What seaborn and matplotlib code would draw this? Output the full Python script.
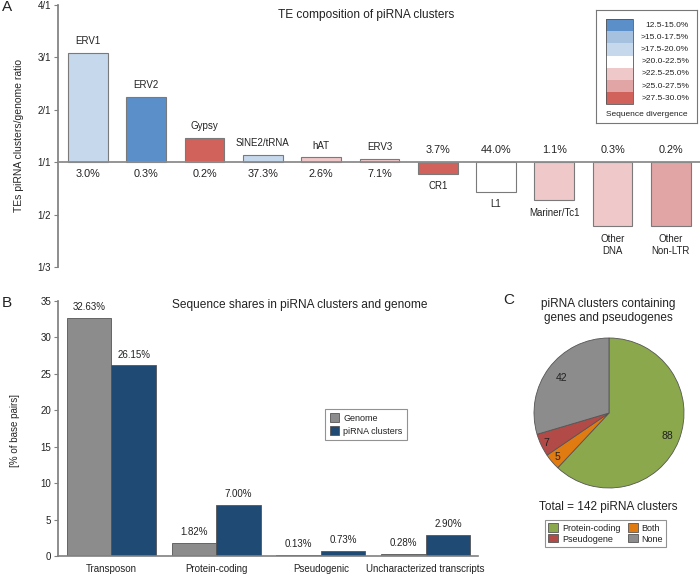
import numpy as np
import pandas as pd
import matplotlib
matplotlib.use("Agg")
import matplotlib.pyplot as plt
from matplotlib.patches import Patch, Rectangle
import seaborn as sns

# Panel A: TE families, ratio of share in piRNA clusters vs genome
te_names = ["ERV1", "ERV2", "Gypsy", "SINE2/tRNA", "hAT", "ERV3", "CR1", "L1",
            "Mariner/Tc1", "Other\nDNA", "Other\nNon-LTR"]
te_ratio = [3.09, 2.24, 1.46, 1.13, 1.09, 1.07, 1 / 1.22, 1 / 1.56, 1 / 1.72, 1 / 2.22, 1 / 2.22]
te_share = ["3.0%", "0.3%", "0.2%", "37.3%", "2.6%", "7.1%", "3.7%", "44.0%", "1.1%", "0.3%", "0.2%"]
te_div_class = [2, 0, 6, 2, 4, 4, 6, 3, 4, 4, 5]

div_labels = ["12.5-15.0%", ">15.0-17.5%", ">17.5-20.0%", ">20.0-22.5%",
              ">22.5-25.0%", ">25.0-27.5%", ">27.5-30.0%"]
div_colors = ["#5b8fc9", "#a6c0e0", "#c6d8ec", "#ffffff", "#efc8c9", "#e2a5a5", "#d0625b"]

ratio_ticks = [4, 3, 2, 1, 1 / 2, 1 / 3]
ratio_tick_labels = ["4/1", "3/1", "2/1", "1/1", "1/2", "1/3"]

# Panel B: sequence shares
seq_types = ["Transposon", "Protein-coding", "Pseudogenic", "Uncharacterized transcripts"]
genome_pct = [32.63, 1.82, 0.13, 0.28]
cluster_pct = [26.15, 7.00, 0.73, 2.90]

# Panel C: clusters containing genes
gene_cats = ["Protein-coding", "Both", "Pseudogene", "None"]
gene_counts = [88, 5, 7, 42]
gene_colors = ["#8ba84d", "#e07b12", "#b24a48", "#8c8c8c"]

sns.set_theme(style="ticks")
plt.rcParams["font.family"] = ["Liberation Sans", "DejaVu Sans"]
plt.rcParams["text.color"] = "#222222"
plt.rcParams["axes.edgecolor"] = "#808080"
plt.rcParams["xtick.color"] = "#808080"
plt.rcParams["ytick.color"] = "#808080"
plt.rcParams["xtick.labelcolor"] = "#222222"
plt.rcParams["ytick.labelcolor"] = "#222222"


def ratio_to_axis(r):
    # ratios above 1 go up linearly (r-1), below 1 go down as -(1/r - 1)
    r = np.asarray(r, dtype=float)
    return np.where(r >= 1, r - 1, 1 - 1 / r)


W, H = 700, 574
fig = plt.figure(figsize=(W / 100, H / 100), dpi=100)


def px_axes(x0, y0, x1, y1):
    return fig.add_axes([x0 / W, 1 - y1 / H, (x1 - x0) / W, (y1 - y0) / H])


# ---------------- Panel A ----------------
dfa = pd.DataFrame({"te": te_names, "ratio": te_ratio, "share": te_share})
dfa["height"] = ratio_to_axis(dfa["ratio"])
bar_cols = [div_colors[k] for k in te_div_class]

axA = px_axes(58, 5, 700, 267)
sns.barplot(data=dfa, x="te", y="height", hue="te", palette=bar_cols, width=0.68, saturation=1,
            edgecolor="#7a7a7a", linewidth=0.8, errorbar=None, legend=False, ax=axA)
axA.set_xlim(-0.515, 10.5)
axA.set_ylim(-2, 3)
axA.set_yticks(ratio_to_axis(ratio_ticks))
axA.set_yticklabels(ratio_tick_labels, fontsize=7)
axA.tick_params(axis="y", length=3, width=0.8, pad=2)
axA.set_xticks([])
axA.set_xlabel("")
axA.set_ylabel("TEs piRNA clusters/genome ratio", fontsize=7.5)
axA.yaxis.set_label_coords(-34 / 642, 0.5)
sns.despine(ax=axA, bottom=True)
axA.axhline(0, color="#8c8c8c", lw=1.3, zorder=3)

for i, row in dfa.iterrows():
    h = row["height"]
    if h >= 0:
        axA.annotate(row["te"], (i, h), xytext=(0, 5), textcoords="offset points",
                     ha="center", va="bottom", fontsize=7)
        axA.annotate(row["share"], (i, 0), xytext=(0, -5), textcoords="offset points",
                     ha="center", va="top", fontsize=7.8)
    else:
        axA.annotate(row["share"], (i, 0), xytext=(0, 5), textcoords="offset points",
                     ha="center", va="bottom", fontsize=7.8)
        axA.annotate(row["te"], (i, h), xytext=(0, -5.5), textcoords="offset points",
                     ha="center", va="top", fontsize=7, linespacing=1.25)

fig.text(366 / W, 1 - 15 / H, "TE composition of piRNA clusters", ha="center", va="center", fontsize=8.6)
fig.text(2 / W, 1 - 7 / H, "A", ha="left", va="center", fontsize=11)

# divergence legend
lax = px_axes(596, 10, 697, 123)
lax.set_xlim(0, 101)
lax.set_ylim(113, 0)
lax.set_xticks([])
lax.set_yticks([])
for s in lax.spines.values():
    s.set_color("#777777")
    s.set_linewidth(0.8)
for k, (lab, col) in enumerate(zip(div_labels, div_colors)):
    lax.add_patch(Rectangle((10, 9 + 12.2 * k), 27, 12.2, facecolor=col, edgecolor="none"))
    lax.text(93, 15.1 + 12.2 * k, lab, ha="right", va="center", fontsize=6)
lax.add_patch(Rectangle((10, 9), 27, 12.2 * 7, fill=False, edgecolor="#555555", lw=0.6))
lax.text(51, 105, "Sequence divergence", ha="center", va="center", fontsize=6)

# ---------------- Panel B ----------------
dfb = pd.DataFrame({
    "type": seq_types * 2,
    "source": ["Genome"] * len(seq_types) + ["piRNA clusters"] * len(seq_types),
    "pct": genome_pct + cluster_pct,
})
axB = px_axes(58, 300.7, 478, 556)
sns.barplot(data=dfb, x="type", y="pct", hue="source", palette=["#8c8c8c", "#1f4a74"],
            width=0.85, gap=0, saturation=1, edgecolor="#555555", linewidth=0.6,
            errorbar=None, ax=axB)
for cont in axB.containers:
    axB.bar_label(cont, fmt="%.2f%%", padding=4, fontsize=7)
axB.set_xlim(-0.51, 3.5)
axB.set_ylim(0, 35)
axB.set_yticks(range(0, 36, 5))
axB.tick_params(axis="y", length=3, width=0.8, pad=2, labelsize=7)
axB.tick_params(axis="x", length=0, pad=6, labelsize=7)
axB.set_xlabel("")
axB.set_ylabel("[% of base pairs]", fontsize=7)
axB.yaxis.set_label_coords(-38 / 420, 0.49)
sns.despine(ax=axB)
axB.spines["bottom"].set_linewidth(1.2)
axB.legend(loc="upper left", bbox_to_anchor=(0.625, 0.595), fontsize=6.5, frameon=True,
           fancybox=False, edgecolor="#777777", handlelength=1.1, handleheight=1.1,
           handletextpad=0.4, borderpad=0.5, labelspacing=0.4, title=None)
axB.get_legend().get_frame().set_linewidth(0.8)

fig.text(300 / W, 1 - 305 / H, "Sequence shares in piRNA clusters and genome", ha="center", va="center", fontsize=8.6)
fig.text(2 / W, 1 - 303 / H, "B", ha="left", va="center", fontsize=11)

# ---------------- Panel C ----------------
axC = px_axes(609 - 76.5, 413 - 76.5, 609 + 76.5, 413 + 76.5)
wedges, _ = axC.pie(gene_counts, colors=gene_colors, startangle=90, counterclock=False,
                    wedgeprops=dict(edgecolor="#555555", linewidth=0.6))
axC.set_xlim(-1.02, 1.02)
axC.set_ylim(-1.02, 1.02)
axC.set_aspect("equal")
label_dist = [0.84, 0.91, 0.93, 0.79]
for w, n, d in zip(wedges, gene_counts, label_dist):
    ang = np.deg2rad((w.theta1 + w.theta2) / 2)
    axC.text(d * np.cos(ang), d * np.sin(ang), str(n), ha="center", va="center", fontsize=7.5)

fig.text(608 / W, 1 - 311 / H, "piRNA clusters containing\ngenes and pseudogenes", ha="center",
         va="center", fontsize=8.5, linespacing=1.25)
fig.text(503 / W, 1 - 300 / H, "C", ha="left", va="center", fontsize=11)
fig.text(608 / W, 1 - 507 / H, "Total = 142 piRNA clusters", ha="center", va="center", fontsize=8.5)

leg_order = [0, 2, 1, 3]
handles = [Patch(facecolor=gene_colors[k], edgecolor="#555555", linewidth=0.6) for k in leg_order]
leg = fig.legend(handles, [gene_cats[k] for k in leg_order], ncol=2, loc="center",
                 bbox_to_anchor=(605.5 / W, 1 - 533.5 / H), fontsize=6.5, frameon=True,
                 fancybox=False, edgecolor="#777777", handlelength=1.1, handleheight=1.0,
                 handletextpad=0.4, columnspacing=0.8, borderpad=0.4, labelspacing=0.2)
leg.get_frame().set_linewidth(0.8)

fig.savefig("out.png", dpi=100)
